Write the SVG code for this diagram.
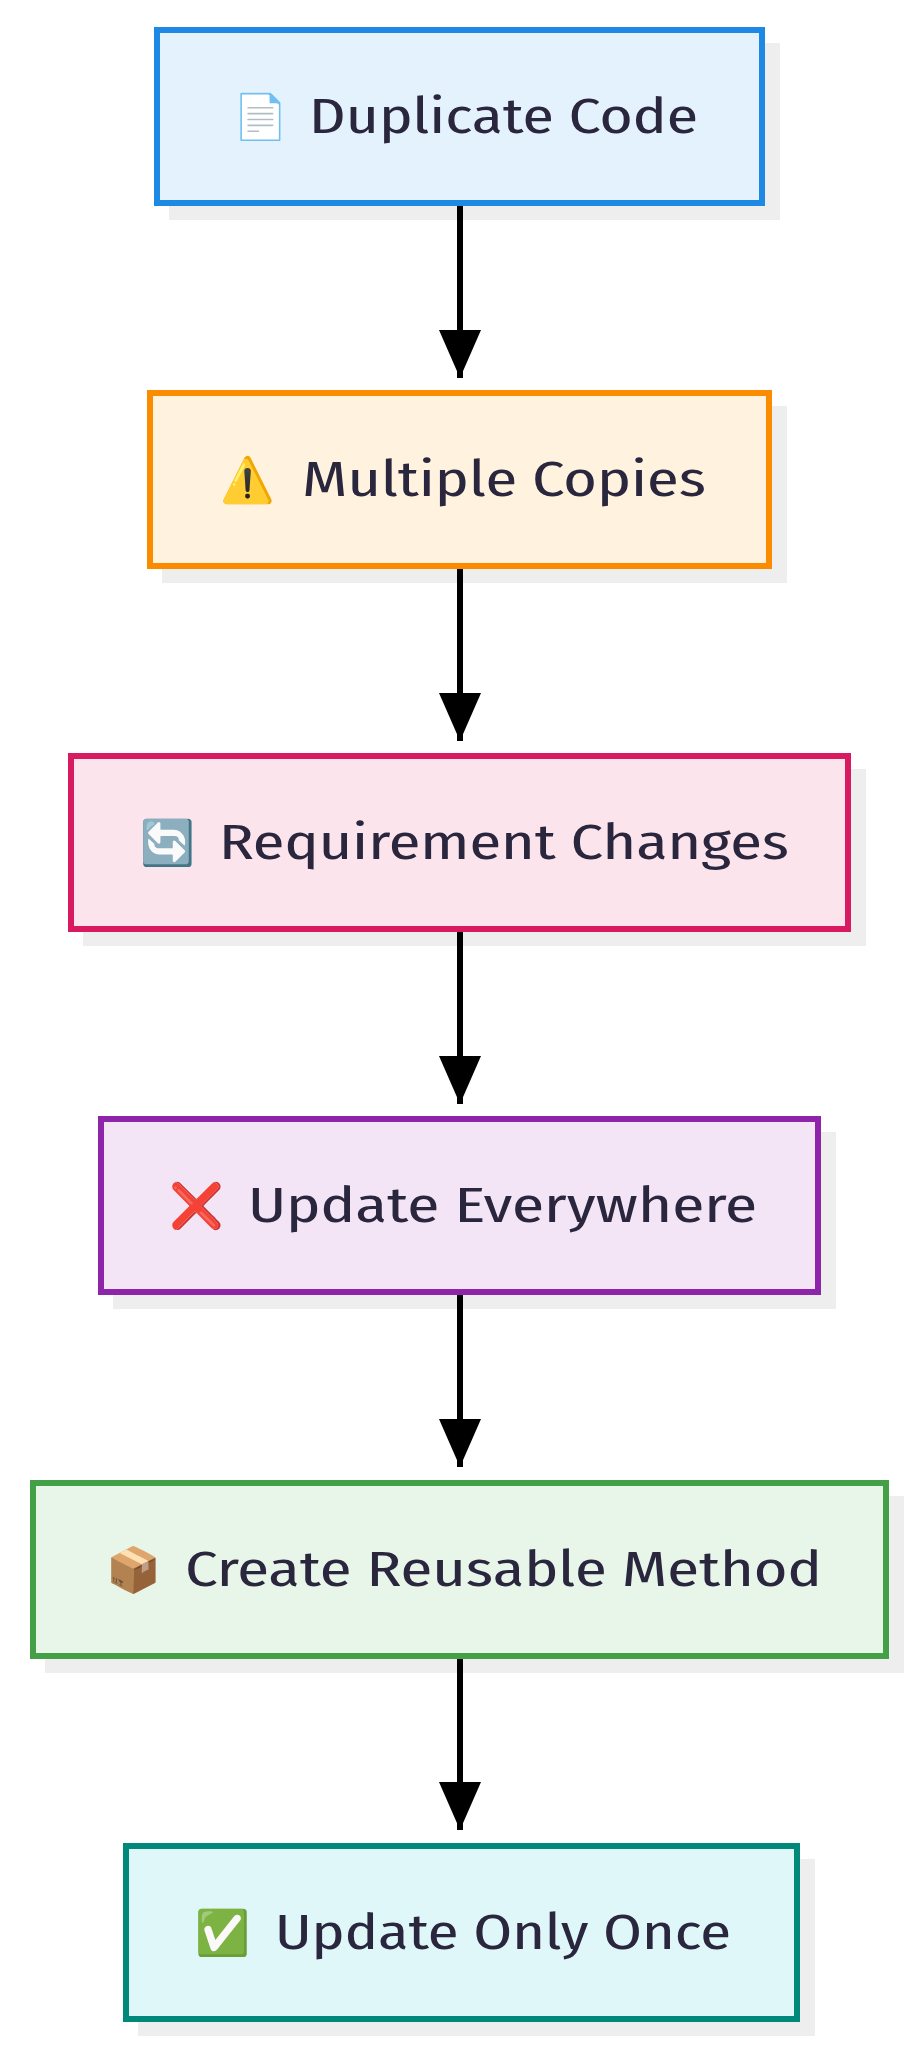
<svg xmlns="http://www.w3.org/2000/svg" width="919" height="2048" viewBox="0 0 919 2048">
<style>
.sh{fill:#eeeeee}
.b{stroke-width:6}
.t{font-family:"Fira Sans Condensed","Noto Sans","DejaVu Sans",sans-serif;font-size:50px;fill:#29263d}
.e{font-family:"Noto Color Emoji","DejaVu Sans",sans-serif;font-size:44px}
.c{stroke:#000;stroke-width:6;fill:none}
</style>
<defs><marker id="ah" markerUnits="userSpaceOnUse" markerWidth="50" markerHeight="42" refX="48" refY="21" orient="auto"><path d="M0,0 L48,21 L0,42 Z" fill="#000"/></marker></defs>
<rect width="919" height="2048" fill="#fff"/>
<g id="n1"><rect class="sh" x="169" y="43" width="611" height="177"/><rect class="b" x="157" y="30" width="605" height="173" fill="#e3f2fd" stroke="#1e88e5"/>
<text class="e" x="233" y="132">📄</text><text class="t" x="309" y="133" textLength="389" lengthAdjust="spacingAndGlyphs">Duplicate Code</text></g>
<g id="n2"><rect class="sh" x="162" y="406" width="625" height="177"/><rect class="b" x="150" y="393" width="619" height="173" fill="#fff3e0" stroke="#fb8c00"/>
<text class="e" x="220" y="495">⚠️</text><text class="t" x="302" y="496" textLength="404" lengthAdjust="spacingAndGlyphs">Multiple Copies</text></g>
<g id="n3"><rect class="sh" x="83" y="769" width="783" height="177"/><rect class="b" x="71" y="756" width="777" height="173" fill="#fce4ec" stroke="#d81b60"/>
<text class="e" x="140" y="858">🔄</text><text class="t" x="219" y="859" textLength="570" lengthAdjust="spacingAndGlyphs">Requirement Changes</text></g>
<g id="n4"><rect class="sh" x="113" y="1132" width="723" height="177"/><rect class="b" x="101" y="1119" width="717" height="173" fill="#f3e5f5" stroke="#8e24aa"/>
<text class="e" x="169" y="1221">❌</text><text class="t" x="248" y="1222" textLength="509" lengthAdjust="spacingAndGlyphs">Update Everywhere</text></g>
<g id="n5"><rect class="sh" x="45" y="1496" width="859" height="177"/><rect class="b" x="33" y="1483" width="853" height="173" fill="#e8f5e9" stroke="#43a047"/>
<text class="e" x="106" y="1585">📦</text><text class="t" x="185" y="1586" textLength="637" lengthAdjust="spacingAndGlyphs">Create Reusable Method</text></g>
<g id="n6"><rect class="sh" x="138" y="1859" width="677" height="177"/><rect class="b" x="126" y="1846" width="671" height="173" fill="#e0f7fa" stroke="#00897b"/>
<text class="e" x="195" y="1948">✅</text><text class="t" x="275" y="1949" textLength="456" lengthAdjust="spacingAndGlyphs">Update Only Once</text></g>
<g id="connectors">
<line class="c" x1="460" y1="206" x2="460" y2="378" marker-end="url(#ah)"/>
<line class="c" x1="460" y1="569" x2="460" y2="741" marker-end="url(#ah)"/>
<line class="c" x1="460" y1="932" x2="460" y2="1104" marker-end="url(#ah)"/>
<line class="c" x1="460" y1="1295" x2="460" y2="1467" marker-end="url(#ah)"/>
<line class="c" x1="460" y1="1659" x2="460" y2="1830" marker-end="url(#ah)"/>
</g>
</svg>
